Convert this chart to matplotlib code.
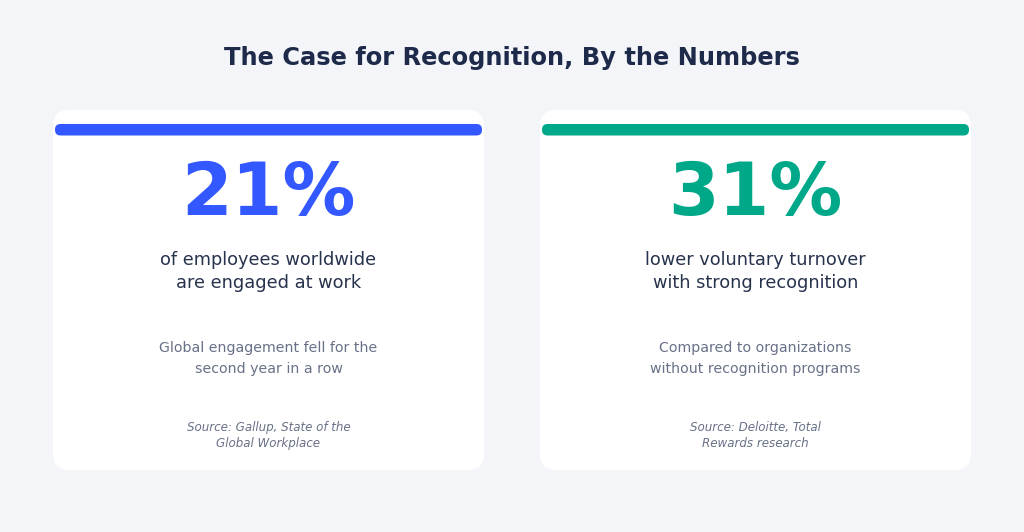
import matplotlib
matplotlib.use("Agg")
import matplotlib.pyplot as plt
from matplotlib.patches import FancyBboxPatch

# ---- data ----
title = "The Case for Recognition, By the Numbers"
stats = ["21%", "31%"]
headlines = ["of employees worldwide\nare engaged at work",
             "lower voluntary turnover\nwith strong recognition"]
descriptions = ["Global engagement fell for the\nsecond year in a row",
                "Compared to organizations\nwithout recognition programs"]
sources = ["Source: Gallup, State of the\nGlobal Workplace",
           "Source: Deloitte, Total\nRewards research"]
accent_colors = ["#3358ff", "#00a88a"]

BG = "#f3f5f9"
W, H = 1024, 532
fig = plt.figure(figsize=(W / 100, H / 100), dpi=100, facecolor=BG)
ax = fig.add_axes([0, 0, 1, 1])
ax.set_xlim(0, W)
ax.set_ylim(H, 0)
ax.axis("off")
ax.set_facecolor(BG)

ax.text(W / 2, 65, title, ha="center", va="baseline", fontsize=17.4,
        fontweight="bold", color="#1e2a4a", family="DejaVu Sans")

card_x = [53, 540]
card_w = 431
card_top, card_bot = 110, 470


def draw_lines(cx, y0, text, step, **kw):
    for i, line in enumerate(text.split("\n")):
        ax.text(cx, y0 + i * step, line, ha="center", va="baseline", **kw)


for i in range(len(stats)):
    x0 = card_x[i]
    cx = x0 + card_w / 2
    card = FancyBboxPatch((x0, card_top), card_w, card_bot - card_top,
                          boxstyle="round,pad=0,rounding_size=16",
                          facecolor="white", edgecolor="none", zorder=1)
    ax.add_patch(card)
    bar = FancyBboxPatch((x0 + 2, 124), card_w - 4, 11.5,
                         boxstyle="round,pad=0,rounding_size=5.5",
                         facecolor=accent_colors[i], edgecolor="none", zorder=2)
    ax.add_patch(bar)
    ax.text(cx, 215, stats[i], ha="center", va="baseline", fontsize=52.5,
            fontweight="bold", color=accent_colors[i], zorder=3)
    draw_lines(cx, 265, headlines[i], 23, fontsize=12.75, color="#27324d", zorder=3)
    draw_lines(cx, 352, descriptions[i], 20.5, fontsize=10.2, color="#687187", zorder=3)
    draw_lines(cx, 431, sources[i], 16, fontsize=8.6, style="italic",
               color="#687187", zorder=3)

fig.savefig("out.png", dpi=100, facecolor=BG)
